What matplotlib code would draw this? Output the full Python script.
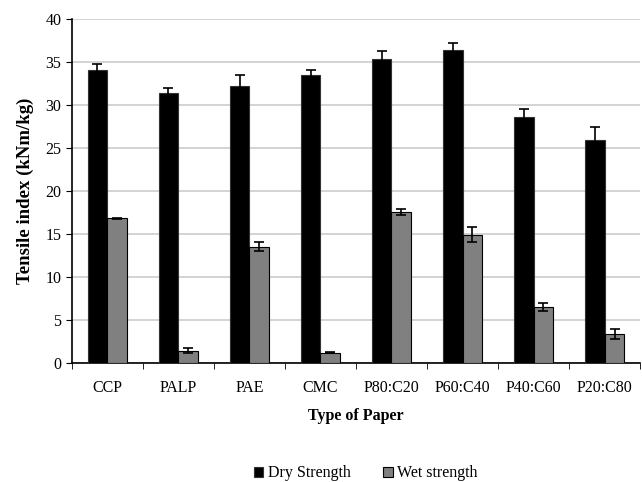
import numpy as np
import matplotlib.pyplot as plt

plt.rcParams['font.family'] = ['Liberation Serif', 'DejaVu Serif']

papers = ["CCP", "PALP", "PAE", "CMC", "P80:C20", "P60:C40", "P40:C60", "P20:C80"]
dry = [34.1, 31.4, 32.2, 33.5, 35.3, 36.4, 28.6, 25.9]
dry_err = [0.6, 0.5, 1.3, 0.5, 0.9, 0.8, 0.9, 1.5]
wet = [16.8, 1.4, 13.5, 1.2, 17.6, 14.9, 6.5, 3.4]
wet_err = [0.1, 0.3, 0.5, 0.1, 0.35, 0.85, 0.5, 0.6]

fig = plt.figure(figsize=(6.42, 4.82), dpi=100)
ax = fig.add_axes([0.112, 0.247, 0.885, 0.714])

x = np.arange(len(papers))
w = 0.28
err_kw = dict(ecolor='black', elinewidth=1.2, capsize=3.5, capthick=1.2)
ax.bar(x - w / 2, dry, w, yerr=dry_err, color='black', edgecolor='#333333',
       linewidth=0.8, label='Dry Strength', error_kw=err_kw, zorder=3)
ax.bar(x + w / 2, wet, w, yerr=wet_err, color='#808080', edgecolor='black',
       linewidth=0.8, label='Wet strength', error_kw=err_kw, zorder=3)

ax.set_xlim(-0.5, len(papers) - 0.5)
ax.set_ylim(0, 40)
ax.set_yticks(np.arange(0, 41, 5))
ax.yaxis.grid(True, color='#cccccc', linewidth=1.2, zorder=0)
ax.set_axisbelow(True)

# category labels centred, ticks on the group boundaries
ax.set_xticks(x)
ax.set_xticklabels(papers, fontsize=11.5)
ax.tick_params(axis='x', which='major', length=0, pad=12)
ax.set_xticks(np.arange(-0.5, len(papers)), minor=True)
ax.tick_params(axis='x', which='minor', length=4, direction='out', color='black')
ax.tick_params(axis='y', length=4, direction='out', labelsize=11.5)

for s in ['top', 'right']:
    ax.spines[s].set_visible(False)
ax.spines['left'].set_linewidth(1.2)
ax.spines['bottom'].set_linewidth(1.2)

ax.set_ylabel('Tensile index (kNm/kg)', fontsize=13.5, fontweight='bold', labelpad=8)
ax.set_xlabel('Type of Paper', fontsize=11.5, fontweight='bold', labelpad=9)

ax.legend(loc='center', bbox_to_anchor=(0.57, 0.018), bbox_transform=fig.transFigure,
          ncol=2, frameon=False, fontsize=11.5, handlelength=0.6, handleheight=0.6,
          columnspacing=2.0, handletextpad=0.3)

fig.savefig('out.png', dpi=100)
